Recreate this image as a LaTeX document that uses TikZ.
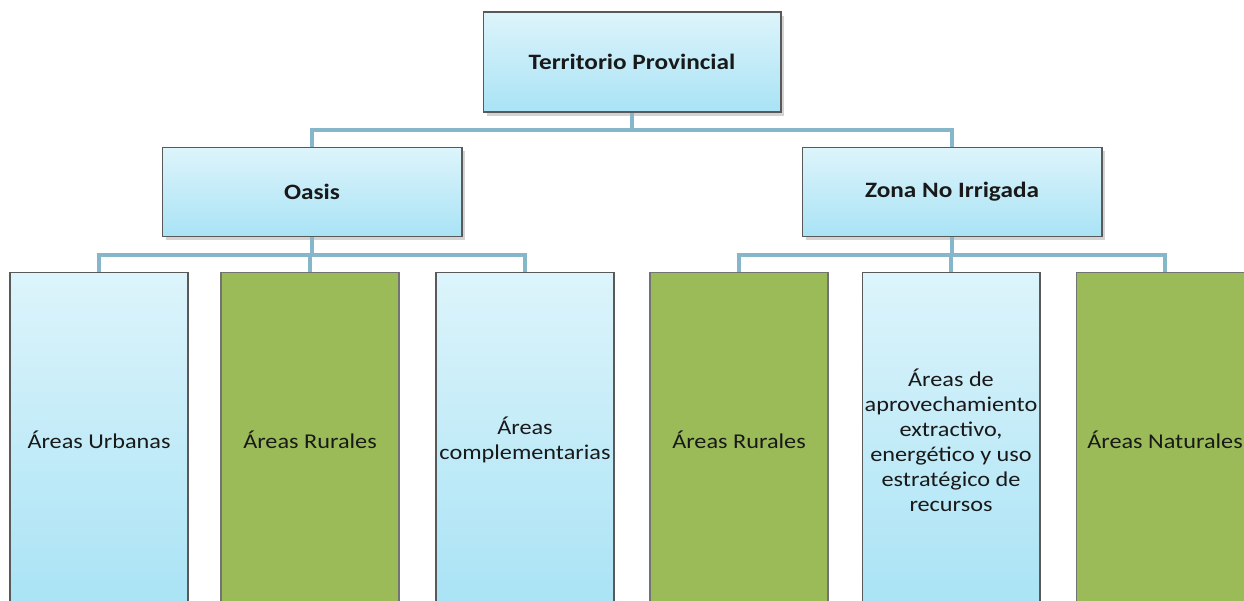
\documentclass[tikz,border=0pt]{standalone}
\usepackage{fontspec}
\setmainfont{Carlito}[FakeStretch=1.15]
\usetikzlibrary{positioning,shadows}
\definecolor{celeste}{HTML}{A9E3F5}
\definecolor{celesteclaro}{HTML}{DDF4FB}
\definecolor{oliva}{HTML}{9BBB59}
\definecolor{enlace}{HTML}{86B6C9}

\begin{document}
\begin{tikzpicture}[x=0.02cm,y=-0.02cm,
	recuadro/.style={rectangle,align=center,text=black!90,line width=0.6pt,font=\fontsize{12}{14.2}\selectfont},
	azul/.style={recuadro,draw=black!65,top color=celesteclaro,bottom color=celeste},
	verde/.style={recuadro,draw=black!55,fill=oliva},
	jefe/.style={azul,font=\fontsize{12.5}{14}\selectfont\bfseries,minimum height=1.78cm,
		drop shadow={opacity=0.35,shadow xshift=2pt,shadow yshift=-2pt}},
	hoja/.style={minimum width=3.56cm,minimum height=6.72cm,inner sep=1pt},
	enlace/.style={draw=enlace,line width=2.2pt}]
	\useasboundingbox (0,0) rectangle (1244,601);
	\clip (0,0) rectangle (1244,601);

	% primer nivel
	\node[jefe,minimum width=5.96cm,minimum height=2cm] (territorio) at (632,62) {Territorio Provincial};
	\node[jefe,minimum width=6cm] (oasis) at (312,192) {Oasis};
	\node[jefe,minimum width=6cm] (zona) at (952,192) {Zona No Irrigada};

	% hojas
	\node[azul,hoja] (urbanas) at (99,440) {Áreas Urbanas};
	\node[verde,hoja] (rurales1) at (310,440) {Áreas Rurales};
	\node[azul,hoja] (complementarias) at (525,440) {Áreas\\complementarias};
	\node[verde,hoja] (rurales2) at (739,440) {Áreas Rurales};
	\node[azul,hoja] (extractivo) at (951,440) {Áreas de\\aprovechamiento\\extractivo,\\energético y uso\\estratégico de\\recursos};
	\node[verde,hoja] (naturales) at (1165,440) {Áreas Naturales};

	% conectores
	\coordinate (bus0) at (632,130);
	\coordinate (bus1) at (312,255);
	\coordinate (bus2) at (952,255);
	\draw[enlace] (territorio.south) -- (bus0);
	\draw[enlace] (oasis.north) |- (bus0);
	\draw[enlace] (zona.north) |- (bus0);

	\draw[enlace] (oasis.south) -- (bus1);
	\draw[enlace] (urbanas.north) |- (bus1);
	\draw[enlace] (rurales1.north) |- (bus1);
	\draw[enlace] (complementarias.north) |- (bus1);

	\draw[enlace] (zona.south) -- (bus2);
	\draw[enlace] (rurales2.north) |- (bus2);
	\draw[enlace] (extractivo.north) |- (bus2);
	\draw[enlace] (naturales.north) |- (bus2);
\end{tikzpicture}
\end{document}
